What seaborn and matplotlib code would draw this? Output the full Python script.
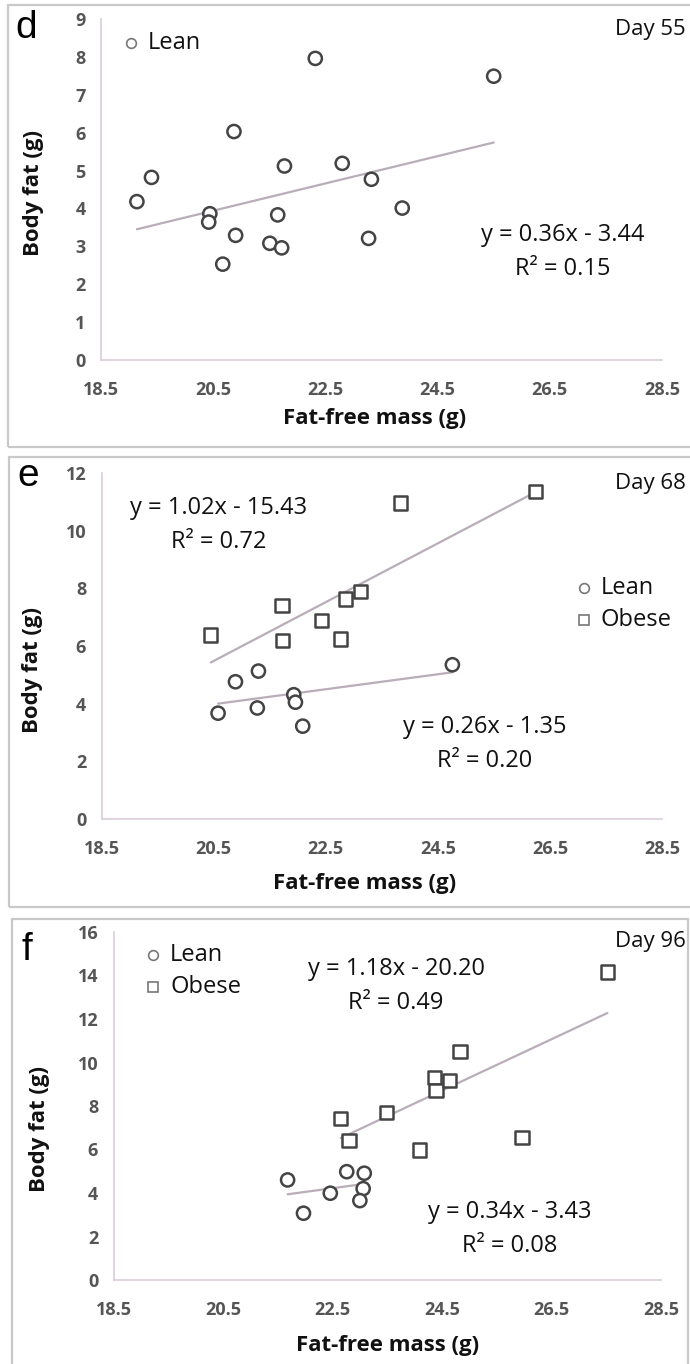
import numpy as np
import pandas as pd
import seaborn as sns
import matplotlib.pyplot as plt
from matplotlib.lines import Line2D
from matplotlib.patches import Rectangle

# panel d - day 55 (lean only)
d_lean_x = [19.14, 19.40, 20.44, 20.42, 20.67, 20.87, 20.90, 21.51, 21.65, 21.72, 21.77, 22.32, 22.80, 23.32, 23.27, 23.87, 25.50]
d_lean_y = [4.18, 4.82, 3.86, 3.64, 2.53, 6.03, 3.29, 3.08, 3.83, 2.96, 5.12, 7.96, 5.19, 4.77, 3.21, 4.01, 7.49]

# panel e - day 68
e_lean_x = [20.58, 20.89, 21.30, 21.28, 21.93, 21.96, 22.09, 24.76]
e_lean_y = [3.67, 4.76, 5.13, 3.85, 4.31, 4.05, 3.22, 5.35]
e_obese_x = [20.45, 21.72, 21.73, 22.42, 22.77, 22.86, 23.12, 23.84, 26.25]
e_obese_y = [6.38, 7.40, 6.20, 6.89, 6.24, 7.63, 7.88, 10.96, 11.37]

# panel f - day 96
f_lean_x = [21.68, 21.97, 22.46, 22.76, 23.08, 23.06, 23.00]
f_lean_y = [4.60, 3.07, 3.99, 4.98, 4.91, 4.20, 3.65]
f_obese_x = [22.65, 22.80, 23.48, 24.09, 24.37, 24.39, 24.64, 24.83, 25.96, 27.52]
f_obese_y = [7.41, 6.41, 7.70, 5.98, 9.31, 8.71, 9.17, 10.51, 6.56, 14.16]

# trendline coefficients as printed on the chart
d_fit = {"Lean": (0.36, -3.44, 0.15)}
e_fit = {"Lean": (0.26, -1.35, 0.20), "Obese": (1.02, -15.43, 0.72)}
f_fit = {"Lean": (0.34, -3.43, 0.08), "Obese": (1.18, -20.20, 0.49)}

x_ticks = [18.5, 20.5, 22.5, 24.5, 26.5, 28.5]

sns.set_theme(style="white")
plt.rcParams["font.family"] = ["Open Sans", "DejaVu Sans"]

W, H = 690, 1364
fig = plt.figure(figsize=(W / 100, H / 100), dpi=100)

def fx(px):
    return px / W

def fy(py):
    return 1 - py / H

AX_COL = "#d9cdd9"
TXT_COL = "#555555"
DARK = "#111111"
PT_COL = "#444444"
LINE_COL = "#b8adb8"

# panel frames
for x0, y0, x1, y1 in [(8, 5, 700, 447), (9, 457, 700, 907), (12, 919, 688, 1400)]:
    fig.add_artist(Rectangle((fx(x0), fy(y1)), fx(x1) - fx(x0), fy(y0) - fy(y1),
                             transform=fig.transFigure, fill=False,
                             edgecolor="#c9c9c9", lw=1.6))

panels = [
    dict(letter="d", day="Day 55", box=(101, 19, 662, 360), ymax=9, ystep=1,
         groups={"Lean": (d_lean_x, d_lean_y)}, fit=d_fit,
         ylab=(-0.102, 0.49), xlab=(0.487, -0.14), letter_pos=(26, 28), day_pos=(42, 30),
         eq_pos={"Lean": (563, 235)},
         leg_pos=(131, 43), leg_gap=32),
    dict(letter="e", day="Day 68", box=(101.5, 473, 662, 819), ymax=12, ystep=2,
         groups={"Lean": (e_lean_x, e_lean_y), "Obese": (e_obese_x, e_obese_y)}, fit=e_fit,
         ylab=(-0.105, 0.43), xlab=(0.47, -0.155), letter_pos=(28, 476), day_pos=(42, 484),
         eq_pos={"Obese": (219, 508), "Lean": (485, 727)},
         leg_pos=(584, 588), leg_gap=32),
    dict(letter="f", day="Day 96", box=(113.5, 932, 661, 1280), ymax=16, ystep=2,
         groups={"Lean": (f_lean_x, f_lean_y), "Obese": (f_obese_x, f_obese_y)}, fit=f_fit,
         ylab=(-0.116, 0.434), xlab=(0.5, -0.158), letter_pos=(27, 950), day_pos=(42, 942),
         eq_pos={"Obese": (396, 969), "Lean": (510, 1212)},
         leg_pos=(153, 955), leg_gap=32),
]

markers = {"Lean": "o", "Obese": "s"}

for p in panels:
    l, t, r, b = p["box"]
    ax = fig.add_axes([fx(l), fy(b), fx(r) - fx(l), fy(t) - fy(b)])

    rows = []
    for g, (xs, ys) in p["groups"].items():
        for x, y in zip(xs, ys):
            rows.append({"ffm": x, "fat": y, "group": g})
    df = pd.DataFrame(rows)

    # trendlines first so markers sit on top
    for g, (xs, ys) in p["groups"].items():
        m, c, r2 = p["fit"][g]
        lx = np.array([min(xs), max(xs)])
        sns.lineplot(x=lx, y=m * lx + c, color=LINE_COL, lw=1.6, ax=ax)

    sns.scatterplot(data=df, x="ffm", y="fat", style="group", markers=markers,
                    s=90, color="white", edgecolor=PT_COL, linewidth=1.8,
                    legend=False, ax=ax, zorder=3)

    ax.set_xlim(18.5, 28.5)
    ax.set_ylim(0, p["ymax"])
    ax.set_xticks(x_ticks)
    ax.set_xticklabels([f"{v:.1f}" for v in x_ticks])
    yt = np.arange(0, p["ymax"] + 0.1, p["ystep"])
    ax.set_yticks(yt)
    ax.set_yticklabels([str(int(v)) for v in yt])

    sns.despine(ax=ax)
    for s in ["left", "bottom"]:
        ax.spines[s].set_color(AX_COL)
        ax.spines[s].set_linewidth(1.2)
    ax.tick_params(direction="out", length=5, width=1.2, color=AX_COL,
                   labelcolor=TXT_COL, labelsize=13, pad=6)
    ax.tick_params(axis="x", pad=10)
    for lab in ax.get_xticklabels() + ax.get_yticklabels():
        lab.set_fontweight("bold")
    ax.patch.set_alpha(0)

    ax.set_xlabel("Fat-free mass (g)", fontsize=16, fontweight="bold", color=DARK)
    ax.set_ylabel("Body fat (g)", fontsize=16, fontweight="bold", color=DARK)
    ax.xaxis.set_label_coords(*p["xlab"])
    ax.yaxis.set_label_coords(*p["ylab"])

    # equations
    for g, (ex, ey) in p["eq_pos"].items():
        m, c, r2 = p["fit"][g]
        sign = "-" if c < 0 else "+"
        fig.text(fx(ex), fy(ey), f"y = {m:.2f}x {sign} {abs(c):.2f}", ha="center", va="center",
                 fontsize=17, color=DARK)
        fig.text(fx(ex), fy(ey + 34), f"R² = {r2:.2f}", ha="center", va="center",
                 fontsize=17, color=DARK)

    fig.text(fx(p["letter_pos"][0]), fy(p["letter_pos"][1]), p["letter"], ha="center", va="center",
             fontsize=28, color="black", family=["Liberation Sans", "DejaVu Sans"])
    fig.text(fx(W - 4), fy(p["day_pos"][1]), p["day"], ha="right", va="center",
             fontsize=16, color=DARK)

    # legend
    lx0, ly0 = p["leg_pos"]
    for i, g in enumerate(p["groups"].keys()):
        yy = ly0 + i * p["leg_gap"]
        fig.add_artist(Line2D([fx(lx0)], [fy(yy)], marker=markers[g], markersize=7,
                              markerfacecolor="white", markeredgecolor="#777777",
                              markeredgewidth=1.2, transform=fig.transFigure))
        fig.text(fx(lx0 + 17), fy(yy), g, ha="left", va="center", fontsize=17, color=DARK)

fig.savefig("out.png", dpi=100, facecolor="white")
